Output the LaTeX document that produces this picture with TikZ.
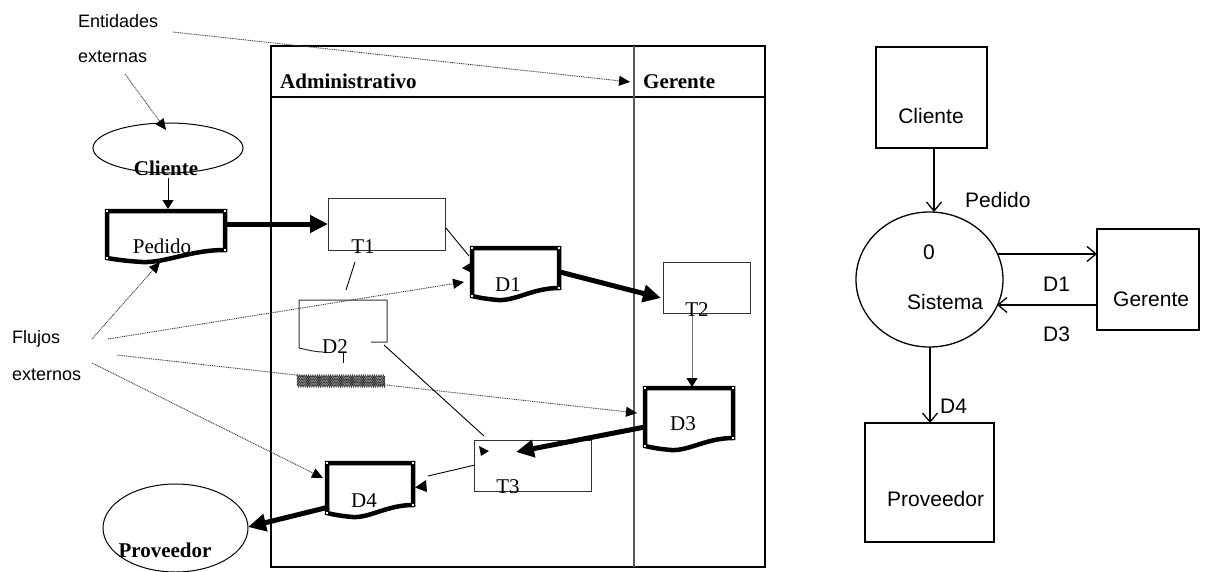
\documentclass[tikz,border=0pt]{standalone}
\usepackage{fontspec}
\setmainfont{Liberation Serif}
\newfontfamily\arialfont{Liberation Sans}
\usetikzlibrary{arrows.meta,decorations.pathmorphing,shapes.geometric}

% document symbol: left, top, right, bottom (right side); wavy lower edge
\newcommand\docpath[4]{(#1,#2) -- (#3,#2) -- (#3,#4)
  .. controls ({#3-0.3*(#3-#1)},{#4}) and ({#1+0.5*(#3-#1)},{#4+13}) .. ({#1+0.3*(#3-#1)},{#4+12})
  .. controls ({#1+0.15*(#3-#1)},{#4+11}) and ({#1+0.05*(#3-#1)},{#4+9}) .. (#1,{#4+8}) -- cycle}
% small white handles on the corners of a document symbol
\newcommand\dochandles[4]{%
  \fill[white] ({#1-0.8},{#2-0.8}) rectangle +(1.6,1.6);
  \fill[white] ({#3-0.8},{#2-0.8}) rectangle +(1.6,1.6);
  \fill[white] ({#3-0.8},{#4-0.8}) rectangle +(1.6,1.6);
  \fill[white] ({#1-0.8},{#4+7.2}) rectangle +(1.6,1.6);}

\begin{document}
\begin{tikzpicture}[x=1pt,y=-1pt,
  serif/.style={font=\fontsize{21}{25}\selectfont, inner sep=0pt},
  serifb/.style={font=\fontsize{21}{25}\selectfont\bfseries, inner sep=0pt},
  sansl/.style={font=\arialfont\fontsize{18}{22}\selectfont, inner sep=0pt},
  sansr/.style={font=\arialfont\fontsize{21}{25}\selectfont, inner sep=0pt},
  thinbox/.style={draw=black!80, line width=1pt},
  area/.style={inner sep=0pt, outer sep=0pt, anchor=north west},
  docline/.style={line width=4.5pt, line join=miter},
  bigflow/.style={line width=5pt, -{Triangle[length=18pt,width=17pt]}},
  smallflow/.style={line width=0.9pt, -{Triangle[length=9pt,width=11pt]}},
  note/.style={line width=0.9pt, black!75, dash pattern=on 1pt off 0.8pt,
    -{Triangle[length=11pt,width=10pt,black]}},
  ctx/.style={line width=1.3pt},
  ctxflow/.style={line width=1.3pt, -{Straight Barb[length=9pt,width=15pt]}},
]
\useasboundingbox (0,0) rectangle (1205,571);

% ---------------- swimlane frame ----------------
\draw[line width=1.2pt] (271,46) rectangle (765,567);
\draw[line width=1.2pt] (271,97) -- (765,97);
\draw[line width=1.4pt, black!65] (634,46) -- (634,567);
\node[serifb, anchor=base west] (adm) at (280,88) {Administrativo};
\node[serifb, anchor=base west] (ger) at (643,88) {Gerente};

% ---------------- annotations ----------------
\node[sansl, anchor=base west] (entidades) at (78,27) {Entidades};
\node[sansl, anchor=base west] (externas) at (78,62) {externas};
\node[sansl, anchor=base west] (flujos) at (12,343) {Flujos};
\node[sansl, anchor=base west] (externos) at (12,380) {externos};

% ---------------- external entities ----------------
\node[draw, ellipse, line width=1pt, minimum width=150pt, minimum height=50pt, inner sep=0pt] (cliente) at (168,148) {};
\node[serifb, anchor=base] (clientetxt) at (166,175) {Cliente};
\node[draw, ellipse, line width=1pt, minimum width=145pt, minimum height=88pt, inner sep=0pt] (proveedor) at (175.5,528) {};
\node[serifb, anchor=base] (proveedortxt) at (165,557) {Proveedor};

% ---------------- documents ----------------
\draw[docline] \docpath{107}{211}{225}{250};
\dochandles{107}{211}{225}{250}
\node[area, minimum width=118pt, minimum height=39pt] (pedido) at (107,211) {};
\node[serif, anchor=base] (pedidotxt) at (162,253) {Pedido};

\draw[docline] \docpath{472}{248}{559}{288};
\dochandles{472}{248}{559}{288}
\node[area, minimum width=87pt, minimum height=40pt] (d1) at (472,248) {};
\node[serif, anchor=base] (d1txt) at (508,291) {D1};

\draw[docline] \docpath{645}{388}{733}{438};
\dochandles{645}{388}{733}{438}
\node[area, minimum width=88pt, minimum height=50pt] (d3) at (645,388) {};
\node[serif, anchor=base] (d3txt) at (683,430) {D3};

\draw[docline] \docpath{327}{463}{413}{505};
\dochandles{327}{463}{413}{505}
\node[area, minimum width=86pt, minimum height=42pt] (d4) at (327,463) {};
\node[serif, anchor=base] (d4txt) at (364,507) {D4};

% D2, drawn with a broken outline
\node[area, minimum width=88pt, minimum height=42pt] (d2) at (299,300) {};
\draw[thinbox] (371,342) -- (387,342) -- (387,300) -- (299,300) -- (299,348)
  .. controls (308,350) and (316,352) .. (323,352);
\node[serif, anchor=base] (d2txt) at (335,353) {D2};
\draw[line width=1pt] (343,352) -- (343,363);
\foreach \yy in {376.5,379.5,382.5,385.5}
  \draw[black!80, line width=0.7pt, decorate,
        decoration={zigzag, segment length=2.2pt, amplitude=1.6pt}] (297,\yy) -- (385,\yy);

% ---------------- tasks ----------------
\node[thinbox, area, minimum width=117pt, minimum height=52pt] (t1) at (328,198) {};
\node[serif, anchor=base] (t1txt) at (363,253) {T1};
\node[thinbox, area, minimum width=87pt, minimum height=51pt] (t2) at (663,262) {};
\node[serif, anchor=base] (t2txt) at (697,316) {T2};
\node[thinbox, area, minimum width=117pt, minimum height=51pt] (t3) at (474,440) {};
\node[serif, anchor=base] (t3txt) at (508,493) {T3};

% ---------------- connector end points ----------------
\coordinate (entfrom) at (173,32);
\coordinate (gerhead) at (630,82);
\coordinate (extfrom) at (125,74);
\coordinate (clitop) at (166,130);
\coordinate (clibot) at (168,178);
\coordinate (pedtop) at (168,209);
\coordinate (f1) at (92,339);
\coordinate (pedbot) at (160,262);
\coordinate (f2) at (108,339);
\coordinate (d1left) at (464,282);
\coordinate (f3) at (117,355);
\coordinate (d3left) at (637,413);
\coordinate (f4) at (92,363);
\coordinate (d4corner) at (323,478);
\coordinate (t1out) at (446,228);
\coordinate (d1corner) at (469,256);
\coordinate (t1low) at (355,262);
\coordinate (t1tail) at (346,290);
\coordinate (d1out) at (560,272);
\coordinate (t2in) at (661,298);
\coordinate (t2low) at (692,316);
\coordinate (d3top) at (692,387);
\coordinate (d3out) at (645,427);
\coordinate (t3in) at (516,452);
\coordinate (d2out) at (384,345);
\coordinate (t3corner) at (484,436);
\coordinate (t3out) at (475,465);
\coordinate (d4near) at (428,476);
\coordinate (d4out) at (329,507);
\coordinate (provin) at (248,527);

% ---------------- flows ----------------
\draw[note] (entfrom) -- (gerhead);
\draw[note] (extfrom) -- (clitop);
\draw[smallflow] (clibot) -- (pedtop);
\draw[note] (f1) -- (pedbot);
\draw[note] (f2) -- (d1left);
\draw[note] (f3) -- (d3left);
\draw[note] (f4) -- (d4corner);
\draw[bigflow] (pedido.east |- t1.west) -- (t1.west);
\draw[line width=0.9pt] (t1out) -- (d1corner);
\fill (462,268) -- (472,262) -- (472,273) -- cycle;
\draw[line width=0.9pt] (t1low) -- (t1tail);
\draw[bigflow] (d1out) -- (t2in);
\draw[line width=1pt, black!55, -{Triangle[length=9pt,width=11pt,black]}] (t2low) -- (d3top);
\draw[bigflow] (d3out) -- (t3in);
\draw[line width=0.9pt] (d2out) -- (t3corner);
\fill (479,446) -- (489,451) -- (481,456) -- cycle;
\draw[line width=0.9pt] (t3out) -- (d4near);
\fill (415,487.5) -- (426,480) -- (427,492) -- cycle;
\draw[bigflow] (d4out) -- (provin);

% ---------------- context diagram ----------------
\node[draw, ctx, area, minimum width=111pt, minimum height=101pt] (rcliente) at (876,47) {};
\node[sansr, anchor=base] (rclientetxt) at (931,123) {Cliente};
\node[draw, ctx, ellipse, minimum width=147pt, minimum height=135pt, inner sep=0pt] (sistema) at (929.5,279.5) {};
\node[sansr, anchor=base] (cero) at (929,259) {0};
\node[sansr, anchor=base west] (sistematxt) at (907,309) {Sistema};
\node[draw, ctx, area, minimum width=102pt, minimum height=101pt] (rgerente) at (1097,229) {};
\node[sansr, anchor=base west] (rgerentetxt) at (1113,306) {Gerente};
\node[draw, ctx, area, minimum width=129pt, minimum height=119pt] (rproveedor) at (865,423) {};
\node[sansr, anchor=base west] (rproveedortxt) at (887,506) {Proveedor};

\coordinate (rcout) at (934,148);
\coordinate (sistop) at (934,212);
\coordinate (sisr1) at (998,254);
\coordinate (sisr2) at (997,305);
\coordinate (sisbot) at (930,347);
\draw[ctxflow] (rcout) -- (sistop);
\draw[ctxflow] (sisr1) -- (sisr1 -| rgerente.west);
\draw[ctxflow] (sisr2 -| rgerente.west) -- (sisr2);
\draw[ctxflow] (sisbot) -- (sisbot |- rproveedor.north);

\node[sansr, anchor=base west] (lpedido) at (965,207) {Pedido};
\node[sansr, anchor=base west] (ld1) at (1043,291) {D1};
\node[sansr, anchor=base west] (ld3) at (1043,341) {D3};
\node[sansr, anchor=base west] (ld4) at (940,413) {D4};
\end{tikzpicture}
\end{document}
